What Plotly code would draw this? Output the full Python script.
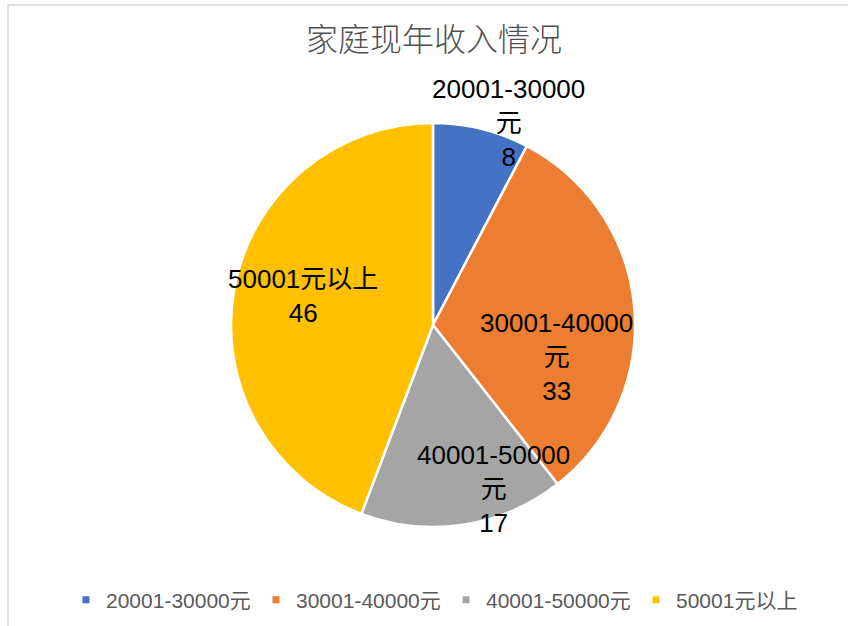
import plotly.graph_objects as go

# ---- data ----
categories = ["20001-30000元", "30001-40000元", "40001-50000元", "50001元以上"]
label_texts = ["20001-30000<br>元", "30001-40000<br>元", "40001-50000<br>元", "50001元以上"]
values = [8, 33, 17, 46]
title_text = "家庭现年收入情况"

# ---- style ----
colors = ["#4472C4", "#ED7D31", "#A5A5A5", "#FFC000"]
W, H = 848, 626
label_px = [(508, 123), (556, 357), (493, 489), (303, 296)]  # label block centres (px)
FONT = "Liberation Sans, Arial, Noto Sans CJK SC, sans-serif"

fig = go.Figure()
fig.add_trace(go.Pie(
    labels=categories, values=values, sort=False, direction="clockwise", rotation=0,
    marker=dict(colors=colors, line=dict(color="white", width=2.5)),
    textinfo="none", hoverinfo="label+value", showlegend=False,
    domain=dict(x=[231 / W, 635 / W], y=[1 - 527 / H, 1 - 123 / H]),
))

# legend proxies (small square markers)
for c, col in zip(categories, colors):
    fig.add_trace(go.Scatter(x=[None], y=[None], mode="markers", name=c,
                             marker=dict(symbol="square", size=7, color=col)))

annotations = []
for txt, v, (px, py) in zip(label_texts, values, label_px):
    annotations.append(dict(
        x=px / W, y=1 - py / H, xref="paper", yref="paper",
        text=f"{txt}<br>{v}", showarrow=False, xanchor="center", yanchor="middle",
        font=dict(family=FONT, size=26, color="#000000"), align="center",
    ))

fig.update_layout(
    width=W, height=H,
    margin=dict(l=0, r=0, t=0, b=0),
    paper_bgcolor="white", plot_bgcolor="white",
    title=dict(text=title_text, x=434 / W, xanchor="center", y=1 - 40 / H, yanchor="middle",
               font=dict(family="Noto Sans CJK SC, sans-serif", size=32, color="#505050", weight=300)),
    xaxis=dict(visible=False), yaxis=dict(visible=False),
    legend=dict(orientation="h", x=66 / W, xanchor="left", y=1 - 600 / H, yanchor="middle",
                font=dict(family=FONT, size=21, color="#595959"),
                entrywidth=145, entrywidthmode="pixels", bgcolor="rgba(0,0,0,0)"),
    annotations=annotations,
    shapes=[dict(type="rect", xref="paper", yref="paper",
                 x0=8 / W, x1=1.02, y0=-0.02, y1=1 - 5 / H,
                 line=dict(color="#D9D9D9", width=1.5), fillcolor="rgba(0,0,0,0)")],
    showlegend=True,
)

fig.write_html("out.html", config={"displayModeBar": False},
               post_script="document.body.style.margin='0';document.body.style.overflow='hidden';")
